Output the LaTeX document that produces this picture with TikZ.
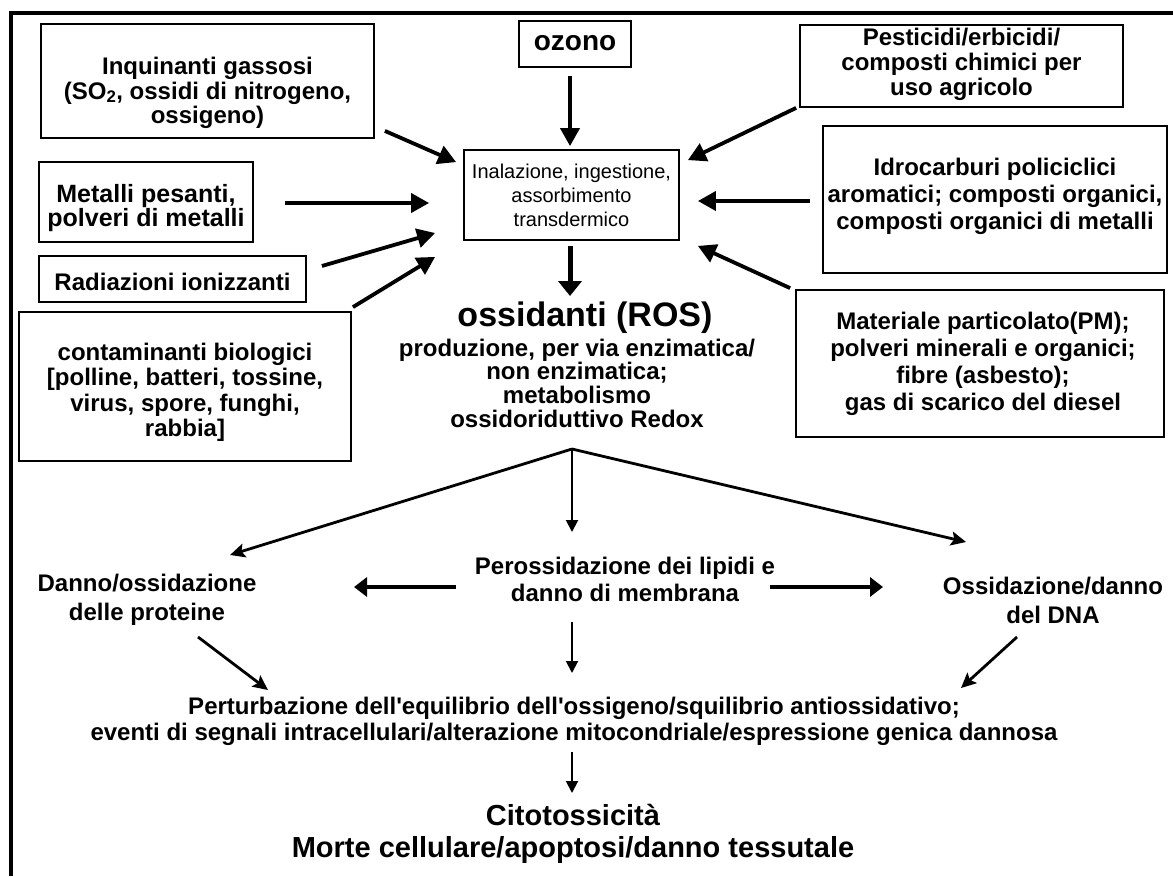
\documentclass[tikz,border=0pt]{standalone}
\usepackage{fontspec}
\setmainfont{Liberation Sans}
\usetikzlibrary{arrows.meta,calc}
\begin{document}
\begin{tikzpicture}[x=1pt,y=-1pt,
  box/.style={draw,line width=1.8pt,inner sep=0pt},
  btxt/.style={inner sep=0pt,align=center,font=\bfseries\fontsize{24}{26}\selectfont},
  lbl/.style={inner sep=0pt,align=center,font=\bfseries\fontsize{24}{27}\selectfont},
  inarr/.style={line width=3.8pt,-{Triangle[length=18pt,width=19pt]}},
  rosarr/.style={line width=5pt,-{Triangle[length=15pt,width=23pt]}},
  brarr/.style={line width=2.8pt,-{Stealth[length=15pt,width=14pt,inset=3pt]}},
  harr/.style={line width=4.4pt,-{Triangle[length=13pt,width=19pt]}},
  thinarr/.style={line width=1.9pt,-{Triangle[length=12pt,width=12pt]}},
]
\useasboundingbox (0,0) rectangle (1173,876);
\fill[white] (0,0) rectangle (1173,876);
% frame
\draw[line width=4pt] (9,13) -- (1173,13);
\draw[line width=4pt] (11,11) -- (11,876);

% source boxes (frames)
\node[box,minimum width=333pt,minimum height=114pt] (gas) at (207.5,81) {};
\node[box,minimum width=112pt,minimum height=46pt] (ozono) at (575,44) {};
\node[box,minimum width=323pt,minimum height=82pt] (pest) at (961.5,66) {};
\node[box,minimum width=344pt,minimum height=147pt] (idro) at (995,199.5) {};
\node[box,minimum width=215pt,minimum height=90pt] (inal) at (571.5,195) {};
\node[box,minimum width=214pt,minimum height=80pt] (metalli) at (146,202) {};
\node[box,minimum width=267pt,minimum height=46pt] (radiaz) at (172.5,279) {};
\node[box,minimum width=332pt,minimum height=149pt] (contam) at (185,386.5) {};
\node[box,minimum width=368pt,minimum height=147pt] (mater) at (980,363.5) {};

% box texts
\node[btxt,font=\bfseries\fontsize{24}{24.5}\selectfont] (gasT) at ($(gas)+(0,12)$)
  {Inquinanti gassosi\\(SO\textsubscript{2}, ossidi di nitrogeno,\\ossigeno)};
\node[btxt,font=\bfseries\fontsize{28}{28}\selectfont] (ozonoT) at ($(ozono)+(0,-1)$) {ozono};
\node[btxt,font=\bfseries\fontsize{24}{25}\selectfont] (pestT) at ($(pest)+(0,-2)$)
  {Pesticidi/erbicidi/\\composti chimici per\\uso agricolo};
\node[btxt,font=\bfseries\fontsize{24}{27}\selectfont] (idroT) at ($(idro)+(0,-3)$)
  {Idrocarburi policiclici\\aromatici; composti organici,\\composti organici di metalli};
\node[btxt,font=\fontsize{20}{24}\selectfont] (inalT) at (inal)
  {Inalazione, ingestione,\\assorbimento\\transdermico};
\node[btxt,font=\bfseries\fontsize{25}{24.5}\selectfont] (metalliT) at ($(metalli)+(0,6)$)
  {Metalli pesanti,\\polveri di metalli};
\node[btxt] (radiazT) at ($(radiaz)+(0,3)$) {Radiazioni ionizzanti};
\node[btxt,font=\bfseries\fontsize{24}{25.5}\selectfont] (contamT) at ($(contam)+(0,6)$)
  {contaminanti biologici\\{}[polline, batteri, tossine,\\virus, spore, funghi,\\rabbia]};
\node[btxt,font=\bfseries\fontsize{24}{27}\selectfont] (materT) at ($(mater)+(3,0)$)
  {Materiale particolato(PM);\\polveri minerali e organici;\\fibre (asbesto);\\gas di scarico del diesel};

% central texts
\node[lbl,font=\bfseries\fontsize{34}{34}\selectfont] (ros) at (585,318) {ossidanti (ROS)};
\node[lbl,font=\bfseries\fontsize{24}{23.7}\selectfont] (rosd) at (577,383)
  {produzione, per via enzimatica/\\non enzimatica;\\metabolismo\\ossidoriduttivo Redox};
\node[lbl,font=\bfseries\fontsize{24}{29}\selectfont] (danno) at (147,600) {Danno/ossidazione\\delle proteine};
\node[lbl] (pero) at (625,579) {Perossidazione dei lipidi e\\danno di membrana};
\node[lbl,font=\bfseries\fontsize{24}{29}\selectfont] (dna) at (1053,600) {Ossidazione/danno\\del DNA};
\node[lbl,font=\bfseries\fontsize{24}{26}\selectfont] (pert) at (574,721)
  {Perturbazione dell\textquotesingle equilibrio dell\textquotesingle ossigeno/squilibrio antiossidativo;\\eventi di segnali intracellulari/alterazione mitocondriale/espressione genica dannosa};
\node[lbl,font=\bfseries\fontsize{29}{32}\selectfont] (cito) at (573,834)
  {Citotossicità\\Morte cellulare/apoptosi/danno tessutale};

% input arrows
\draw[inarr] ($(gas.south east)+(10,-8)$) -- ($(inal.north west)+(-7,13)$);
\draw[inarr] ($(ozono.south)+(-5,8)$) -- ($(inal.north)+(-1.5,-3)$);
\draw[inarr] ($(metalli.east)+(31,1)$) -- ($(inal.west)+(-34,8)$);
\draw[inarr] ($(radiaz.east)+(15,-13)$) -- ($(inal.west)+(-28,38)$);
\draw[inarr] ($(contam.north east)+(1,-4)$) -- ($(inal.south west)+(-28,16)$);
\draw[inarr] ($(pest.south west)+(-3,0)$) -- ($(inal.north east)+(8,11)$);
\draw[inarr] ($(idro.west)+(-12,1.5)$) -- ($(inal.east)+(18,6)$);
\draw[inarr] ($(mater.north west)+(-5,-1)$) -- ($(inal.south east)+(18,5)$);

% to ROS
\coordinate (rosT) at (570,296);
\draw[rosarr] ($(inal.south)+(-1.5,5)$) -- (rosT);

% branches
\coordinate (apex) at (572,449);
\coordinate (dT) at (230,555);
\coordinate (pT) at (572,532);
\coordinate (nT) at (966,542);
\draw[brarr] (apex) -- (dT);
\draw[thinarr] (apex) -- (pT);
\draw[brarr] (apex) -- (nT);

% lateral arrows from peroxidation
\coordinate (hL0) at (456,587);
\coordinate (hL1) at (354,587);
\coordinate (hR0) at (770,587);
\coordinate (hR1) at (883,587);
\draw[harr] (hL0) -- (hL1);
\draw[harr] (hR0) -- (hR1);

% converging arrows
\coordinate (a0) at (198,637);
\coordinate (a1) at (268,690);
\coordinate (b0) at (572,622);
\coordinate (b1) at (572,673);
\coordinate (c0) at (1017,637);
\coordinate (c1) at (961,688);
\draw[brarr] (a0) -- (a1);
\draw[thinarr] (b0) -- (b1);
\draw[brarr] (c0) -- (c1);

\coordinate (d0) at (572,752);
\coordinate (d1) at (572,793);
\draw[thinarr] (d0) -- (d1);
\end{tikzpicture}
\end{document}
